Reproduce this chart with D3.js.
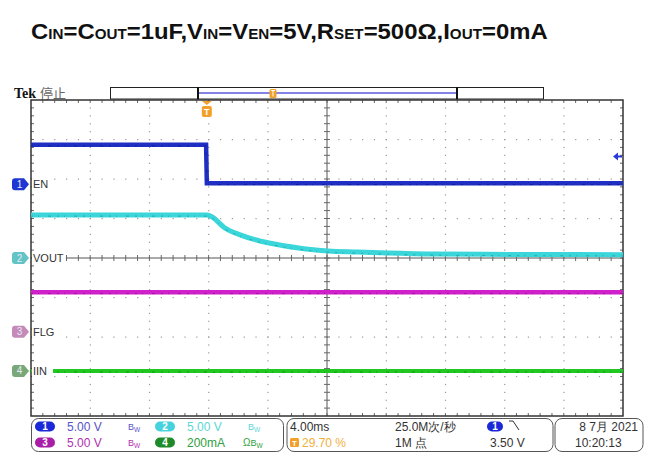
<!DOCTYPE html>
<html><head><meta charset="utf-8">
<script src="https://cdn.jsdelivr.net/npm/d3@7"></script>
<style>
body{margin:0;background:#fff}
svg{display:block;font-family:"Liberation Sans",Arial,sans-serif}
</style>
</head><body>
<script>
// scope settings
const timePerDiv=4.00;          // ms/div
const triggerPct=29.70;         // % of record before trigger
const chNames=["EN","VOUT","FLG","IIN"];
const chScaleText=["5.00 V","5.00 V","5.00 V","200mA"];
const chScale=[5.00,5.00,5.00,200];
const chPos=[1.87,0,-1.87,-2.86];   // ground marker, divisions from centre
const trigLevel=3.50;

// waveforms (ms, V or mA)
const enT=[-11.88,-0.05,0,28.12];
const enV=[5.0,5.0,0.1,0.1];
const voutT=[-11.88,0,0.4,1.15,2.3,3.2,4.2,5.2,6.2,7.2,8.2,10.2,12.2,15.6,21.2,28.12];
const voutV=[5.45,5.45,5.15,3.9,2.9,2.35,1.9,1.55,1.27,1.05,0.89,0.76,0.63,0.5,0.45,0.42];
const flgT=[-11.88,28.12];
const flgV=[5.0,5.0];
const iinT=[-11.88,28.12];
const iinV=[0,0];

const W=651,H=455;
const svg=d3.select("body").append("svg").attr("width",W).attr("height",H);

// title
const title=svg.append("text").attr("x",31).attr("y",39).attr("font-weight","bold").attr("font-size",22).attr("fill","#111");
const parts=[["C",0],["IN",1],["=C",0],["OUT",1],["=1uF,V",0],["IN",1],["=V",0],["EN",1],["=5V,R",0],["SET",1],["=500Ω,I",0],["OUT",1],["=0mA",0]];
parts.forEach(p=>title.append("tspan").attr("font-size",p[1]?14:22).text(p[0]));
let tw=title.node().getBBox().width;
title.attr("transform","translate(31,0) scale("+(517/tw)+",1) translate(-31,0)");

const gx0=31,gx1=623,gy0=100,gy1=416;
const x=d3.scaleLinear().domain([-triggerPct/100*10*timePerDiv,(1-triggerPct/100)*10*timePerDiv]).range([gx0,gx1]);
const div=d3.scaleLinear().domain([-4,4]).range([gy1,gy0]);
const dx=(gx1-gx0)/10, dy=(gy1-gy0)/8;

// Tek header
svg.append("text").attr("x",14).attr("y",98).attr("font-weight","bold").attr("font-size",14).style("font-family","'Liberation Serif',serif").attr("fill","#111").text("Tek");
svg.append("text").attr("x",40).attr("y",98).attr("font-size",13).attr("fill","#666").style("font-family","'Noto Sans CJK SC'").text("停止");

// record bar
svg.append("rect").attr("x",110.5).attr("y",87.5).attr("width",433).attr("height",11.5).attr("fill","#fff").attr("stroke","#222");
svg.append("line").attr("x1",198).attr("x2",457).attr("y1",93).attr("y2",93).attr("stroke","#5a5ae0").attr("stroke-width",1.5);
[198,457].forEach(v=>svg.append("line").attr("x1",v).attr("x2",v).attr("y1",87).attr("y2",99.5).attr("stroke","#111").attr("stroke-width",2));
svg.append("rect").attr("x",269.5).attr("y",89).attr("width",7).attr("height",9).attr("rx",1.5).attr("fill","#f2a02a");
svg.append("path").attr("d","M271,90.5h4M273,90.5v6").attr("stroke","#fff").attr("stroke-width",1);

// graticule
const grid=svg.append("g");
for(let i=1;i<10;i++){
  if(i===5) continue;
  for(let k=1;k<40;k++) grid.append("rect").attr("x",gx0+i*dx-0.5).attr("y",gy0+k*dy/5-0.5).attr("width",1.2).attr("height",1.2).attr("fill","#9a9a9a");
}
for(let j=1;j<8;j++){
  if(j===4) continue;
  for(let k=1;k<50;k++) grid.append("rect").attr("x",gx0+k*dx/5-0.5).attr("y",gy0+j*dy-0.5).attr("width",1.2).attr("height",1.2).attr("fill","#9a9a9a");
}
const cx=gx0+5*dx, cy=gy0+4*dy;
grid.append("line").attr("x1",cx).attr("x2",cx).attr("y1",gy0).attr("y2",gy1).attr("stroke","#555");
grid.append("line").attr("x1",gx0).attr("x2",gx1).attr("y1",cy).attr("y2",cy).attr("stroke","#555");
for(let k=1;k<50;k++){
  const xx=gx0+k*dx/5;
  grid.append("line").attr("x1",xx).attr("x2",xx).attr("y1",cy-3).attr("y2",cy+3).attr("stroke","#666");
  grid.append("line").attr("x1",xx).attr("x2",xx).attr("y1",gy0).attr("y2",gy0+3).attr("stroke","#666");
  grid.append("line").attr("x1",xx).attr("x2",xx).attr("y1",gy1).attr("y2",gy1-3).attr("stroke","#666");
}
for(let k=1;k<40;k++){
  const yy=gy0+k*dy/5;
  grid.append("line").attr("x1",cx-3).attr("x2",cx+3).attr("y1",yy).attr("y2",yy).attr("stroke","#666");
  grid.append("line").attr("x1",gx0).attr("x2",gx0+3).attr("y1",yy).attr("y2",yy).attr("stroke","#666");
  grid.append("line").attr("x1",gx1).attr("x2",gx1-3).attr("y1",yy).attr("y2",yy).attr("stroke","#666");
}
grid.append("rect").attr("x",gx0).attr("y",gy0).attr("width",gx1-gx0).attr("height",gy1-gy0).attr("fill","none").attr("stroke","#333").attr("stroke-width",1.5);

// traces
const traces=[
  {t:enT,v:enV,ch:0,col:"#1f2fc4",dark:"#0c1470",w:4.5,curve:d3.curveLinear},
  {t:voutT,v:voutV,ch:1,col:"#3ad6da",dark:"#0f8a8c",w:5,curve:d3.curveMonotoneX},
  {t:flgT,v:flgV,ch:2,col:"#d020cc",dark:"#7a0a78",w:4.5,curve:d3.curveLinear},
  {t:iinT,v:iinV,ch:3,col:"#22c822",dark:"#0c6e10",w:4,curve:d3.curveLinear}
];
traces.forEach(tr=>{
  const pts=tr.t.map((t,i)=>[t,tr.v[i]]);
  const line=d3.line().x(d=>x(d[0])).y(d=>div(d[1]/chScale[tr.ch]+chPos[tr.ch])).curve(tr.curve);
  svg.append("path").attr("d",line(pts)).attr("fill","none").attr("stroke",tr.col).attr("stroke-width",tr.w);
  svg.append("path").attr("d",line(pts)).attr("fill","none").attr("stroke",tr.dark).attr("stroke-width",1)
    .attr("stroke-dasharray","2,5,1,9,3,6").attr("opacity",0.55).attr("transform","translate(0,1.2)");
});

// channel markers and labels
const markCol=["#1e36d2","#62c4c4","#c48ab8","#78a878"];
chNames.forEach((n,i)=>{
  const yy=div(chPos[i]);
  const lab=svg.append("text").attr("x",33).attr("y",yy+4).attr("font-size",11).attr("fill","#333").text(n);
  const bw=Math.max(lab.node().getBBox().width+3,21);
  svg.insert("rect",function(){return lab.node();}).attr("x",gx0+1).attr("y",yy-6).attr("width",bw).attr("height",12).attr("fill","#fff");
  svg.append("path").attr("d",`M15,${yy-6}h9l5,6l-5,6h-9q-3,0 -3,-3v-6q0,-3 3,-3z`).attr("fill",markCol[i]);
  svg.append("text").attr("x",19.5).attr("y",yy+3.5).attr("text-anchor","middle").attr("font-size",10).attr("fill","#e8e8f8").text(i+1);
});

// trigger position and level markers
const tx=x(0);
svg.append("path").attr("d",`M${tx-5},${gy0+1}h10l-5,4z`).attr("fill","#f2a02a");
svg.append("rect").attr("x",tx-5).attr("y",gy0+6).attr("width",10).attr("height",11).attr("rx",2).attr("fill","#f2a02a");
svg.append("text").attr("x",tx).attr("y",gy0+15).attr("text-anchor","middle").attr("font-size",9).attr("font-weight","bold").attr("fill","#fff").text("T");
const ly=div(trigLevel/chScale[0]+chPos[0]);
svg.append("path").attr("d",`M613,${ly}l5,-4v3h4v2h-4v3z`).attr("fill","#2a3ad8");

// status bar
const sb=svg.append("g").attr("font-size",12);
[[31.5,252],[287,266],[555,88]].forEach(b=>sb.append("rect").attr("x",b[0]).attr("y",418.5).attr("width",b[1]).attr("height",33).attr("rx",7).attr("fill","#fff").attr("stroke","#555"));
const pillCol=["#1a2ad8","#46d2dc","#a81ea8","#1e8a2a"];
const txtCol=["#5a52c8","#5cd6d6","#b030b0","#2fa040"];
const pos=[[35,431],[155,431],[35,447],[155,447]];
[0,1,2,3].forEach(i=>{
  const p=pos[i];
  sb.append("rect").attr("x",p[0]).attr("y",p[1]-9.5).attr("width",20).attr("height",10).attr("rx",5).attr("fill",pillCol[i]);
  sb.append("text").attr("x",p[0]+10).attr("y",p[1]-0.8).attr("text-anchor","middle").attr("font-size",10).attr("font-weight","bold").attr("fill","#fff").text(i+1);
  sb.append("text").attr("x",p[0]+32).attr("y",p[1]).attr("fill",txtCol[i]).text(chScaleText[i]);
  const bwx=p[0]+(i===3?88:93);
  const bwT=sb.append("text").attr("x",bwx).attr("y",p[1]-1).attr("font-size",9).attr("fill",txtCol[i]);
  if(i===3) bwT.append("tspan").attr("font-size",10).text("Ω");
  bwT.append("tspan").text("B");
  bwT.append("tspan").attr("font-size",6.5).attr("dy",2).text("W");
});
sb.append("text").attr("x",290).attr("y",431).attr("fill","#333").text("4.00ms");
sb.append("rect").attr("x",290).attr("y",438).attr("width",9).attr("height",9).attr("rx",1.5).attr("fill","#f2a02a");
sb.append("text").attr("x",294.5).attr("y",446).attr("text-anchor","middle").attr("font-size",8).attr("font-weight","bold").attr("fill","#fff").text("T");
sb.append("text").attr("x",302).attr("y",447).attr("fill","#f0b040").text(triggerPct.toFixed(2)+" %");
sb.append("text").attr("x",395).attr("y",431).attr("fill","#333").text("25.0M次/秒");
sb.append("text").attr("x",395).attr("y",447).attr("fill","#333").text("1M 点");
sb.append("rect").attr("x",487).attr("y",421.5).attr("width",16).attr("height",10).attr("rx",5).attr("fill",pillCol[0]);
sb.append("text").attr("x",495).attr("y",430.2).attr("text-anchor","middle").attr("font-size",10).attr("font-weight","bold").attr("fill","#fff").text("1");
sb.append("path").attr("d","M509,421l4,0l6,9").attr("fill","none").attr("stroke","#333").attr("stroke-width",1);
sb.append("text").attr("x",490).attr("y",447).attr("fill","#333").text(trigLevel.toFixed(2)+" V");
sb.append("text").attr("x",638).attr("y",431).attr("text-anchor","end").attr("fill","#333").text("8 7月 2021");
sb.append("text").attr("x",575).attr("y",447).attr("fill","#333").text("10:20:13");
</script>
</body></html>
